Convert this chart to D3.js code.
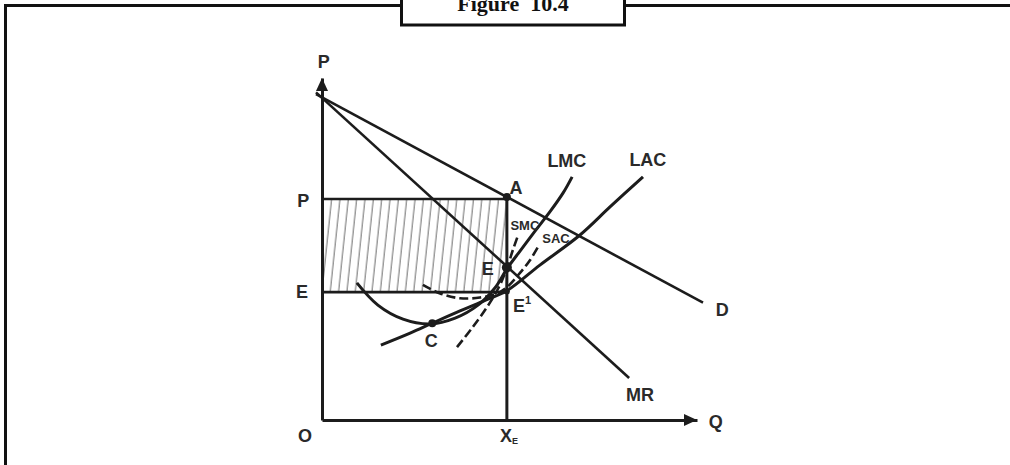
<!DOCTYPE html>
<html>
<head>
<meta charset="utf-8">
<script src="https://cdn.jsdelivr.net/npm/d3@7"></script>
<style>
  body { margin: 0; background: #fff; }
  text { font-family: "Liberation Sans", Arial, sans-serif; font-weight: bold; fill: #2a2a2a; }
</style>
</head>
<body>
<div id="wrapper"></div>
<script>
// quantities / prices in chart units (x: 0-100, y: 0-100)
const xE = 49.3
const priceP = 64.6
const costE = 37.4
const demand = [[-1.6, 95.3], [101.6, 34.3]]
const mr = [[-1.6, 95.8], [81.9, 12.3]]
const lmc = [[9.3, 40.1], [14.9, 33.6], [21.6, 29.5], [28.8, 28.1], [35.5, 29.8], [41.6, 33.6],
  [46.1, 38.6], [49.3, 44.2], [52.8, 49.4], [56.8, 55.2], [60.8, 60.9], [64.3, 66.4], [66.7, 71.1]]
const lac = [[15.7, 21.9], [23.5, 25.4], [29.4, 28.3], [36.8, 31.9], [43.5, 35.0], [49.3, 37.8],
  [58.1, 45.3], [68.8, 54.1], [76.8, 62.3], [85.6, 71.1]]
const smc = [[36.0, 21.3], [40.0, 26.9], [44.0, 33.0], [47.2, 38.9], [49.3, 44.4], [50.9, 49.7], [52.3, 54.1]]
const sac = [[26.9, 39.5], [31.5, 37.0], [36.8, 35.6], [42.1, 35.8], [46.7, 37.0], [49.3, 38.8],
  [52.8, 43.0], [55.5, 46.8], [57.6, 50.6]]
const dots = [
  { x: 49.3, y: 65.2, r: 4 },
  { x: 49.3, y: 44.6, r: 5 },
  { x: 49.3, y: 37.6, r: 3 },
  { x: 29.4, y: 28.3, r: 4 },
]
const labels = [
  { t: "P", x: 0.5, y: 104.6 },
  { t: "P", x: -5, y: 64.0 },
  { t: "E", x: -5.3, y: 37.5 },
  { t: "O", x: -4.5, y: -4.8 },
  { t: "Q", x: 105, y: -0.5 },
  { t: "A", x: 51.7, y: 67.8 },
  { t: "E", x: 44.2, y: 44.2 },
  { t: "C", x: 29.1, y: 23.1 },
  { t: "LMC", x: 65.3, y: 75.8 },
  { t: "LAC", x: 86.9, y: 76.1 },
  { t: "D", x: 106.7, y: 32.2 },
  { t: "MR", x: 84.8, y: 7.3 },
]
const smallLabels = [
  { t: "SMC", x: 54.1, y: 57.0 },
  { t: "SAC", x: 62.4, y: 53.2 },
]

const width = 1010
const height = 465

const svg = d3.select("#wrapper").append("svg")
  .attr("width", width)
  .attr("height", height)

// frame + title tab
svg.append("path")
  .attr("d", "M5.5,465V5.5H1010")
  .attr("fill", "none").attr("stroke", "#111").attr("stroke-width", 3)
svg.append("rect")
  .attr("x", 401.5).attr("y", -5).attr("width", 223).attr("height", 30)
  .attr("fill", "#fff").attr("stroke", "#111").attr("stroke-width", 3)
svg.append("text")
  .attr("x", 513).attr("y", 11)
  .attr("text-anchor", "middle")
  .attr("xml:space", "preserve")
  .style("font-family", "'Liberation Serif', 'DejaVu Serif', serif")
  .style("font-size", "22px")
  .style("fill", "#111")
  .text("Figure  10.4")

const x = d3.scaleLinear().domain([0, 100]).range([322, 697])
const y = d3.scaleLinear().domain([0, 100]).range([420, 78])

// hatching
const defs = svg.append("defs")
const pat = defs.append("pattern")
  .attr("id", "hatch")
  .attr("patternUnits", "userSpaceOnUse")
  .attr("width", 8.3).attr("height", 20)
  .attr("patternTransform", "rotate(6)")
pat.append("line")
  .attr("x1", 2).attr("x2", 2).attr("y1", 0).attr("y2", 20)
  .attr("stroke", "#555").attr("stroke-width", 0.9)

svg.append("rect")
  .attr("x", x(0)).attr("y", y(priceP))
  .attr("width", x(xE) - x(0)).attr("height", y(costE) - y(priceP))
  .attr("fill", "url(#hatch)")

const ink = "#1c1c1c"

// axes
const xAxis = svg.append("g")
  .attr("transform", `translate(0,${y(0)})`)
  .call(d3.axisBottom(x).tickValues([]).tickSizeOuter(0))
const yAxis = svg.append("g")
  .attr("transform", `translate(${x(0)},0)`)
  .call(d3.axisLeft(y).tickValues([]).tickSizeOuter(0))
svg.selectAll(".domain").attr("stroke", ink).attr("stroke-width", 3)

svg.append("path")
  .attr("d", `M${x(100)},${y(0)}l-13,-6v12z`)
  .attr("fill", ink)
svg.append("path")
  .attr("d", `M${x(0)},${y(100)}l-6,13h12z`)
  .attr("fill", ink)

// price / cost levels
svg.append("path")
  .attr("d", `M${x(0)},${y(priceP)}H${x(xE)}M${x(0)},${y(costE)}H${x(xE)}`)
  .attr("stroke", ink).attr("stroke-width", 2.6).attr("fill", "none")
svg.append("line")
  .attr("x1", x(xE)).attr("x2", x(xE)).attr("y1", y(0)).attr("y2", y(priceP))
  .attr("stroke", ink).attr("stroke-width", 3)

const straight = d3.line().x(d => x(d[0])).y(d => y(d[1]))
const smooth = d3.line().x(d => x(d[0])).y(d => y(d[1])).curve(d3.curveCatmullRom)

svg.append("path").attr("d", straight(demand))
  .attr("fill", "none").attr("stroke", ink).attr("stroke-width", 2.6)
svg.append("path").attr("d", straight(mr))
  .attr("fill", "none").attr("stroke", ink).attr("stroke-width", 2.6)

svg.append("path").attr("d", smooth(lmc))
  .attr("fill", "none").attr("stroke", ink).attr("stroke-width", 3)
svg.append("path").attr("d", smooth(lac))
  .attr("fill", "none").attr("stroke", ink).attr("stroke-width", 3)
svg.append("path").attr("d", smooth(smc))
  .attr("fill", "none").attr("stroke", ink).attr("stroke-width", 2.6)
  .attr("stroke-dasharray", "9,4")
svg.append("path").attr("d", smooth(sac))
  .attr("fill", "none").attr("stroke", ink).attr("stroke-width", 2.6)
  .attr("stroke-dasharray", "9,4")

svg.selectAll(".dot").data(dots).join("circle")
  .attr("class", "dot")
  .attr("cx", d => x(d.x)).attr("cy", d => y(d.y)).attr("r", d => d.r)
  .attr("fill", ink)

svg.selectAll(".lbl").data(labels).join("text")
  .attr("class", "lbl")
  .attr("x", d => x(d.x)).attr("y", d => y(d.y))
  .attr("text-anchor", "middle")
  .attr("dominant-baseline", "central")
  .style("font-size", "18px")
  .text(d => d.t)

svg.selectAll(".slbl").data(smallLabels).join("text")
  .attr("class", "slbl")
  .attr("x", d => x(d.x)).attr("y", d => y(d.y))
  .attr("text-anchor", "middle")
  .attr("dominant-baseline", "central")
  .style("font-size", "13px")
  .text(d => d.t)

// X_E and E¹ with sub/superscripts
const xeLabel = svg.append("text")
  .attr("x", x(xE) - 7).attr("y", y(-4.8))
  .attr("dominant-baseline", "central")
  .style("font-size", "18px")
xeLabel.append("tspan").text("X")
xeLabel.append("tspan").attr("dy", 5).style("font-size", "9px").text("E")

const e1Label = svg.append("text")
  .attr("x", x(xE) + 6).attr("y", y(33.3))
  .attr("dominant-baseline", "central")
  .style("font-size", "18px")
e1Label.append("tspan").text("E")
e1Label.append("tspan").attr("dy", -6).style("font-size", "11px").text("1")
</script>
</body>
</html>
